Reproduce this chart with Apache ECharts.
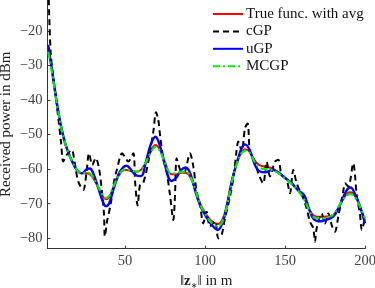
<!DOCTYPE html>
<html>
<head>
<meta charset="utf-8">
<script src="https://cdn.jsdelivr.net/npm/echarts@6/dist/echarts.min.js"></script>
<style>
  html, body { margin: 0; padding: 0; background: #fff; }
  #chart { width: 375px; height: 288px; }
</style>
</head>
<body>
<div id="chart"></div>
<script>
// distance grid for the smooth curves (m)
var dist = [2, 4, 6, 8, 10, 12, 14, 17, 20, 23, 26, 28, 30, 33, 36, 38, 40, 43, 46, 49, 51, 54, 57, 60, 63, 66, 69, 72, 75, 79, 82, 85, 88, 91, 94, 97, 100, 104, 108, 111, 114, 117, 120, 123, 125, 128, 131, 134, 138, 142, 146, 150, 154, 158, 162, 165, 168, 172, 176, 180, 183, 186, 189, 191, 194, 197, 200];

// true function with avg (red)
var trueVals = [-24.5, -30.5, -36.5, -42.5, -47.5, -51.5, -54.5, -57.8, -60.2, -61.2, -61.2, -61.5, -62.5, -65, -67.8, -68.7, -68.2, -65, -62, -60.3, -60.2, -60.6, -60.8, -60.2, -58, -55, -53, -54.5, -58, -61.5, -61.5, -61, -61, -62.5, -66, -70, -72.5, -75, -75.9, -74.5, -69.5, -63, -58, -55, -54.2, -55, -57.5, -58.8, -59.3, -59.8, -61, -62.5, -64, -66, -68.5, -71.5, -73.4, -73.8, -73.7, -73.3, -71.5, -69, -67, -66.7, -68, -71, -74.8];

// uGP (blue)
var ugpVals = [-24, -30, -36.5, -42.5, -47.5, -51.5, -54.5, -57.8, -60.3, -61.2, -60, -59.8, -61, -65, -69.2, -70.7, -70, -65.5, -61.5, -59.4, -59, -60.3, -61.8, -62, -58, -53, -50.6, -53.5, -58.8, -63.4, -62.5, -60.3, -59.5, -61.5, -66.5, -70.5, -73.2, -76, -77.6, -75.5, -70, -63, -58, -53.8, -52.8, -54.5, -58.5, -60.6, -60.9, -60.2, -61, -62.5, -64, -66, -67.5, -71.5, -74.5, -75.1, -74.6, -73.8, -71.8, -68.5, -65.8, -65.3, -67.5, -71, -75.7];

// MCGP (green)
var mcgpVals = [-26, -31, -36.8, -42.6, -47.5, -51.5, -54.5, -57.8, -60.2, -61.2, -61, -61.2, -62.3, -64.8, -67.5, -68.3, -67.8, -64.8, -61.8, -60.2, -60.1, -60.5, -60.7, -60.1, -58, -55.3, -53.5, -54.8, -58.2, -61.2, -61.2, -60.8, -60.7, -62.3, -66, -70.2, -72.8, -75.5, -76.5, -75, -70, -63.2, -58.2, -55.3, -54.6, -55.3, -57.8, -59.5, -60, -60.2, -61.2, -62.7, -64.2, -66.2, -68.8, -71.8, -73.9, -74.2, -74, -73.2, -71.2, -69, -67.5, -67.2, -68.3, -71, -74.2];

// cGP (black dashed), own sample points
var cgpDist = [2, 3.5, 5.2, 7, 8.5, 10, 11.4, 13.5, 16.7, 18.5, 20.8, 23.9, 26, 27.5, 29.6, 31.7, 33.75, 35.8, 36.9, 37.4, 38.9, 41, 43, 45, 48.2, 50, 52, 55.2, 56.3, 57.9, 59.4, 61.4, 64.6, 67.7, 69.4, 70.8, 71.9, 73.9, 76, 78.1, 80.2, 81.25, 82.3, 84.4, 86.9, 90.6, 92.7, 94.8, 96.9, 98.9, 101, 103.1, 106.25, 108.3, 110.4, 112.5, 115.6, 117.7, 119.8, 120.8, 123, 125, 126.7, 128.1, 131.25, 133.3, 136.4, 138.5, 140.6, 143.75, 145.8, 147.9, 151, 153.1, 155.2, 157.3, 161.4, 163.5, 165.6, 167.7, 168.75, 169.8, 172.9, 175, 177.1, 179.2, 181.25, 183.3, 186.4, 187.5, 189.6, 192.7, 193.75, 194.8, 196.9, 198, 200];
var cgpVals = [-5, -26, -33.4, -40, -46, -52, -57.8, -55.9, -54.4, -58, -63.6, -66, -60.7, -55.4, -58.8, -56.8, -59.7, -67.4, -73.2, -79.5, -74.8, -70.3, -64, -60, -55.4, -56.5, -57.8, -55.4, -63.6, -70.5, -64.5, -64, -57.8, -49.1, -43.5, -45.7, -50.1, -56.8, -60.7, -67.4, -74.7, -67.4, -56.8, -60, -61, -55.4, -59.2, -66.5, -70.3, -75.7, -72.3, -76.6, -75, -80, -79, -74.2, -68, -62.6, -54.4, -52, -54.9, -48.1, -46.8, -54.9, -57.8, -61.2, -64.1, -57.8, -62.1, -57.8, -57.3, -61.7, -63.1, -67, -60.2, -64.1, -68.4, -71.3, -75.2, -77.1, -81, -77.1, -72.8, -75.7, -72.8, -76.2, -78.1, -73.7, -66.5, -64.1, -65, -58.3, -61.7, -67.4, -73.2, -77.6, -74];

var xTicks = [50, 100, 150, 200];
var yTicks = [-80, -70, -60, -50, -40, -30, -20];

function zip(xs, ys) {
  return xs.map(function (x, i) { return [x, ys[i]]; });
}

var serif = "Liberation Serif";
var chart = echarts.init(document.getElementById("chart"));

var option = {
  animation: false,
  grid: { left: 47.4, right: 10, top: 0, bottom: 39.4, containLabel: false, outerBoundsMode: "none" },
  legend: {
    orient: "vertical",
    left: 212,
    top: 6,
    padding: 0,
    itemWidth: 30,
    itemHeight: 12,
    itemGap: 1.4,
    itemStyle: { opacity: 0 },
    textStyle: { fontFamily: serif, fontSize: 15, lineHeight: 16, color: "#111", padding: [0, 0, 0, -2] },
    data: ["True func. with avg", "cGP", "uGP", "MCGP"]
  },
  xAxis: {
    type: "value",
    min: 1.5,
    max: 200,
    name: "\u2016{z|z}{s|\u2217}\u2016 in m",
    nameLocation: "middle",
    nameGap: 23,
    nameTextStyle: {
      fontFamily: serif, fontSize: 15, color: "#222",
      rich: {
        z: { fontFamily: serif, fontSize: 15, fontWeight: "bold", color: "#222" },
        s: { fontFamily: "DejaVu Sans", fontSize: 8, color: "#222", verticalAlign: "bottom", padding: [9, 0, 0, 0] }
      }
    },
    axisLine: { lineStyle: { color: "#333", width: 1 } },
    axisTick: { inside: true, length: 3, customValues: xTicks, lineStyle: { color: "#333" } },
    axisLabel: { customValues: xTicks, fontFamily: serif, fontSize: 14.5, color: "#444", margin: 5 },
    splitLine: { show: false }
  },
  yAxis: {
    type: "value",
    min: -83,
    max: -11,
    name: "Received power in dBm",
    nameLocation: "middle",
    nameGap: 34,
    nameMoveOverlap: false,
    nameTextStyle: { fontFamily: serif, fontSize: 15, color: "#222" },
    axisLine: { show: true, lineStyle: { color: "#333", width: 1 } },
    axisTick: { show: true, inside: true, length: 3, customValues: yTicks, lineStyle: { color: "#333" } },
    axisLabel: {
      customValues: yTicks, fontFamily: serif, fontSize: 14.5, color: "#444", margin: 5,
      formatter: function (v) { return String(v).replace("-", "\u2212"); }
    },
    splitLine: { show: false }
  },
  series: [
    {
      name: "True func. with avg",
      type: "line",
      data: zip(dist, trueVals),
      smooth: 0.4,
      symbol: "none",
      lineStyle: { color: "#ff0000", width: 2 },
      itemStyle: { color: "#ff0000" }
    },
    {
      name: "cGP",
      type: "line",
      data: zip(cgpDist, cgpVals),
      smooth: 0.3,
      symbol: "none",
      lineStyle: { color: "#000", width: 2, type: [6, 4] },
      itemStyle: { color: "#000" }
    },
    {
      name: "uGP",
      type: "line",
      data: zip(dist, ugpVals),
      smooth: 0.4,
      symbol: "none",
      lineStyle: { color: "#0000ff", width: 2.4 },
      itemStyle: { color: "#0000ff" }
    },
    {
      name: "MCGP",
      type: "line",
      data: zip(dist, mcgpVals),
      smooth: 0.4,
      symbol: "none",
      lineStyle: { color: "#00ee00", width: 2.2, type: [7, 3, 2, 3] },
      itemStyle: { color: "#00ee00" }
    }
  ]
};

chart.setOption(option);
</script>
</body>
</html>
